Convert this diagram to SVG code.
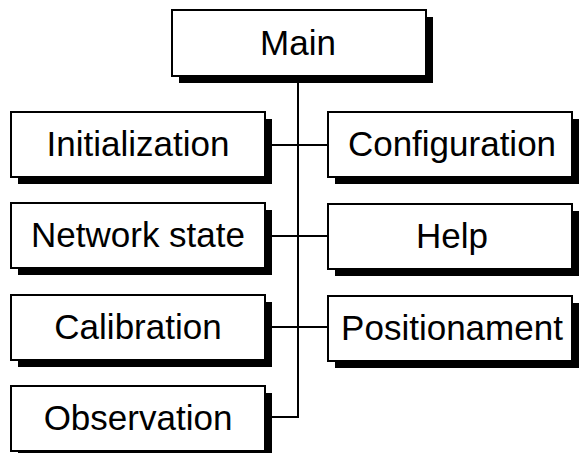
<svg xmlns="http://www.w3.org/2000/svg" width="582" height="453" viewBox="0 0 582 453">
<style>
.shadow{fill:#000}
.box{fill:#fff;stroke:#000;stroke-width:2}
.lbl{font-family:"Liberation Sans",Arial,sans-serif;font-size:35px;fill:#000;text-anchor:middle}
.conn{stroke:#000;stroke-width:2;fill:none}
</style>
<rect width="582" height="453" fill="#fff"/>
<g id="connectors">
<line class="conn" x1="298" y1="76" x2="298" y2="418"/>
<line class="conn" x1="265" y1="145" x2="328" y2="145"/>
<line class="conn" x1="265" y1="236" x2="328" y2="236"/>
<line class="conn" x1="265" y1="327" x2="328" y2="327"/>
<line class="conn" x1="265" y1="417" x2="299" y2="417"/>
</g>
<g id="main">
<rect class="shadow" x="179" y="17" width="254" height="66"/>
<rect class="box" x="172" y="10" width="254" height="66"/>
<text class="lbl" x="298" y="55">Main</text>
</g>
<g id="initialization">
<rect class="shadow" x="18" y="119" width="254" height="65"/>
<rect class="box" x="11" y="112" width="254" height="65"/>
<text class="lbl" x="138" y="156">Initialization</text>
</g>
<g id="configuration">
<rect class="shadow" x="335" y="119" width="244" height="65"/>
<rect class="box" x="328" y="112" width="244" height="65"/>
<text class="lbl" x="452" y="156">Configuration</text>
</g>
<g id="network-state">
<rect class="shadow" x="18" y="210" width="254" height="65"/>
<rect class="box" x="11" y="203" width="254" height="65"/>
<text class="lbl" x="138" y="247">Network state</text>
</g>
<g id="help">
<rect class="shadow" x="335" y="211" width="244" height="65"/>
<rect class="box" x="328" y="204" width="244" height="65"/>
<text class="lbl" x="452" y="248">Help</text>
</g>
<g id="calibration">
<rect class="shadow" x="18" y="302" width="254" height="65"/>
<rect class="box" x="11" y="295" width="254" height="65"/>
<text class="lbl" x="138" y="339">Calibration</text>
</g>
<g id="positionament">
<rect class="shadow" x="335" y="303" width="244" height="65"/>
<rect class="box" x="328" y="296" width="244" height="65"/>
<text class="lbl" x="452" y="340">Positionament</text>
</g>
<g id="observation">
<rect class="shadow" x="18" y="393" width="254" height="65"/>
<rect class="box" x="11" y="386" width="254" height="65"/>
<text class="lbl" x="138" y="430">Observation</text>
</g>
</svg>
